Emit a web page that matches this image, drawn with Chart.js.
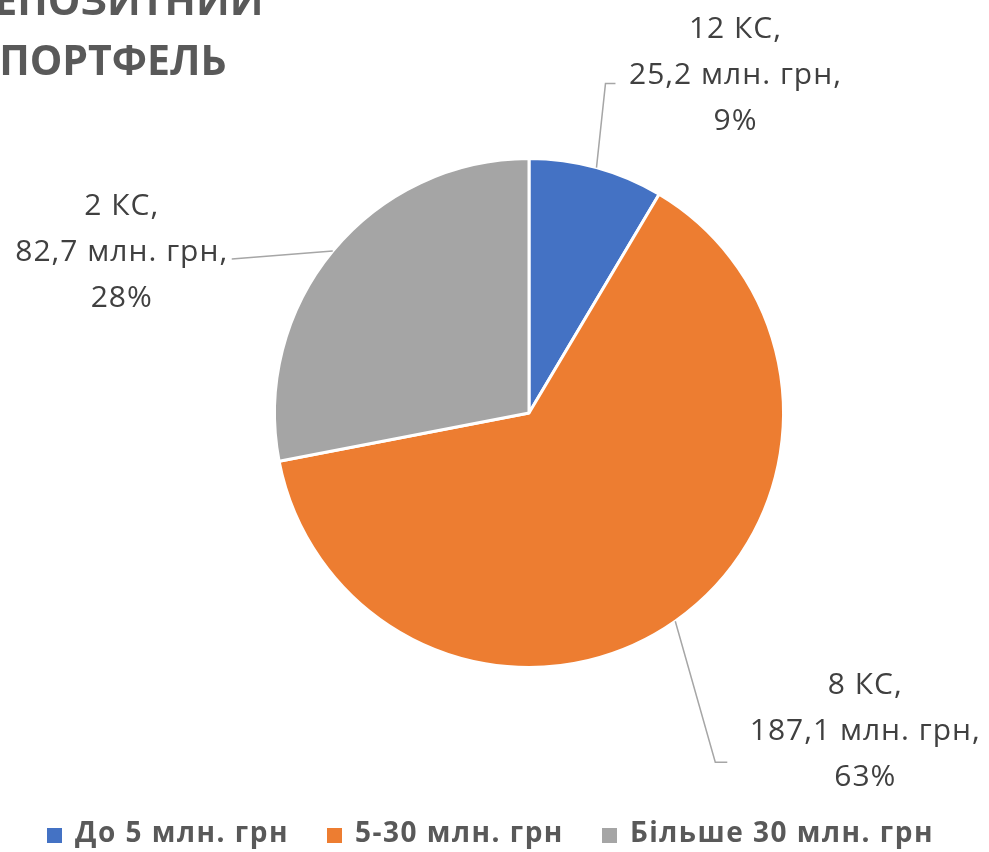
<!DOCTYPE html>
<html lang="uk">
<head>
<meta charset="utf-8">
<title>Депозитний портфель</title>
<script src="https://cdn.jsdelivr.net/npm/chart.js@4.4.1/dist/chart.umd.min.js"></script>
<style>
    html, body {
        margin: 0;
        padding: 0;
        background: #fff;
        overflow: hidden;
    }
    .wrap {
        position: relative;
        width: 989px;
        height: 852px;
    }
    #depositChart {
        position: absolute;
        left: 0;
        top: 0;
    }
    .chart-title {
        position: absolute;
        left: -37px;
        top: -31px;
        width: 300px;
        text-align: center;
        font-family: "Open Sans", sans-serif;
        font-weight: 700;
        font-size: 41px;
        line-height: 60px;
        color: #595959;
        white-space: nowrap;
    }
    .legend {
        position: absolute;
        left: 47px;
        top: 814px;
        display: flex;
        align-items: center;
        font-family: "Open Sans", sans-serif;
        font-weight: 700;
        font-size: 28px;
        letter-spacing: 1.5px;
        line-height: 34px;
        color: #595959;
        white-space: nowrap;
    }
    .legend-item {
        display: flex;
        align-items: center;
        margin-right: 38px;
    }
    .legend-box {
        position: relative;
        top: 4px;
        width: 15px;
        height: 15px;
        margin-right: 13px;
    }
</style>
</head>
<body>
<div class="wrap">
    <canvas id="depositChart" width="989" height="852"></canvas>
    <div class="chart-title">ДЕПОЗИТНИЙ<br>ПОРТФЕЛЬ</div>
    <div class="legend" id="legend"></div>
</div>
<script>
// Data
const categories = ['До 5 млн. грн', '5-30 млн. грн', 'Більше 30 млн. грн'];
const amounts = [25.2, 187.1, 82.7];      // млн. грн
const unionCounts = [12, 8, 2];           // кількість КС
const sliceColors = ['#4472C4', '#ED7D31', '#A5A5A5'];

// where each data label sits, relative to the slice's edge point
const labelLayout = [
    { elbow: [9, -84], end: [19, -84], text: [139, -130] },
    { elbow: [40, 141], end: [52, 141], text: [190, 73] },
    { elbow: null, end: [-101, 8], text: [-211, -36] }
];
const labelLineHeight = 46;

function fmt(v) {
    return v.toFixed(1).replace('.', ',');
}

// Data labels with leader lines
const calloutLabels = {
    id: 'calloutLabels',
    afterDatasetsDraw(chart) {
        const ctx = chart.ctx;
        const meta = chart.getDatasetMeta(0);
        const total = amounts.reduce((a, b) => a + b, 0);

        meta.data.forEach((arc, i) => {
            const p = arc.getProps(['x', 'y', 'startAngle', 'endAngle', 'outerRadius'], true);
            const mid = (p.startAngle + p.endAngle) / 2;
            const ax = p.x + Math.cos(mid) * p.outerRadius;
            const ay = p.y + Math.sin(mid) * p.outerRadius;
            const lay = labelLayout[i];

            ctx.save();
            ctx.strokeStyle = '#A6A6A6';
            ctx.lineWidth = 1.5;
            ctx.beginPath();
            ctx.moveTo(ax, ay);
            if (lay.elbow) ctx.lineTo(ax + lay.elbow[0], ay + lay.elbow[1]);
            ctx.lineTo(ax + lay.end[0], ay + lay.end[1]);
            ctx.stroke();

            const lines = [
                unionCounts[i] + ' КС,',
                fmt(amounts[i]) + ' млн. грн,',
                Math.round(amounts[i] / total * 100) + '%'
            ];
            ctx.fillStyle = '#404040';
            ctx.font = '30px "Open Sans", sans-serif';
            ctx.letterSpacing = '1px';
            ctx.textAlign = 'center';
            ctx.textBaseline = 'alphabetic';
            lines.forEach((line, k) => {
                ctx.fillText(line, ax + lay.text[0], ay + lay.text[1] + k * labelLineHeight);
            });
            ctx.restore();
        });
    }
};

const ctx = document.getElementById('depositChart').getContext('2d');
const depositChart = new Chart(ctx, {
    type: 'pie',
    data: {
        labels: categories,
        datasets: [{
            data: amounts,
            backgroundColor: sliceColors,
            borderColor: '#ffffff',
            borderWidth: 3
        }]
    },
    options: {
        responsive: false,
        animation: false,
        layout: {
            padding: { left: 273, right: 204, top: 157, bottom: 183 }
        },
        plugins: {
            legend: { display: false },
            tooltip: { enabled: false }
        }
    },
    plugins: [calloutLabels]
});

// HTML legend
const legendEl = document.getElementById('legend');
categories.forEach((name, i) => {
    const item = document.createElement('div');
    item.className = 'legend-item';
    item.innerHTML = '<span class="legend-box" style="background:' + sliceColors[i] + '"></span><span>' + name + '</span>';
    legendEl.appendChild(item);
});
</script>
</body>
</html>
